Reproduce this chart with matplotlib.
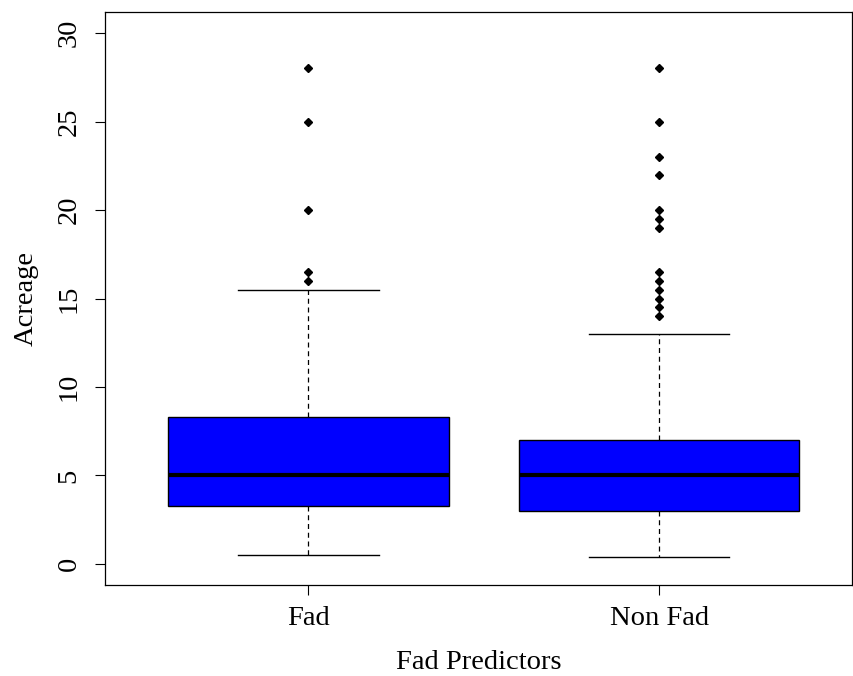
import matplotlib.pyplot as plt

# summary statistics per group (acres)
groups = ["Fad", "Non Fad"]
q1 = [3.3, 3.0]
medians = [5.0, 5.0]
q3 = [8.3, 7.0]
whisker_low = [0.5, 0.4]
whisker_high = [15.5, 13.0]
outliers = [
    [16.0, 16.5, 20.0, 25.0, 28.0],
    [14.0, 14.5, 15.0, 15.5, 16.0, 16.5, 19.0, 19.5, 20.0, 22.0, 23.0, 25.0, 28.0],
]

plt.rcParams['font.family'] = ['Liberation Serif', 'DejaVu Serif']

stats = []
for i, name in enumerate(groups):
    stats.append({
        "label": name,
        "q1": q1[i], "med": medians[i], "q3": q3[i],
        "whislo": whisker_low[i], "whishi": whisker_high[i],
        "fliers": outliers[i],
    })

fig = plt.figure(figsize=(8.54, 6.76), dpi=100)
ax = fig.add_axes([0.123, 0.1346, 0.8747, 0.8476])

ax.bxp(stats, positions=[1, 2], widths=0.8, patch_artist=True,
       boxprops=dict(facecolor="#0000ff", edgecolor="black", linewidth=1.0),
       medianprops=dict(color="black", linewidth=3),
       whiskerprops=dict(color="black", linestyle=(0, (4, 3)), linewidth=0.9),
       capprops=dict(color="black", linewidth=1.0),
       flierprops=dict(marker="D", markersize=4.5, markerfacecolor="black",
                       markeredgecolor="black", linestyle="none"),
       capwidths=0.4)

ax.set_xlim(0.42, 2.55)
ax.set_ylim(-1.19, 31.19)
ax.set_yticks([0, 5, 10, 15, 20, 25, 30])
ax.set_xticks([1, 2])
ax.set_xticklabels(groups)
ax.tick_params(axis="both", length=7, width=0.8, labelsize=20.5)
ax.tick_params(axis="x", pad=8)
ax.tick_params(axis="y", pad=10)
for lab in ax.get_yticklabels():
    lab.set_rotation(90)
    lab.set_va("center")

ax.set_xlabel("Fad Predictors", fontsize=20.5, labelpad=14)
ax.set_ylabel("Acreage", fontsize=20.5, labelpad=13)
for s in ax.spines.values():
    s.set_linewidth(0.9)

fig.savefig("out.png", dpi=100)
